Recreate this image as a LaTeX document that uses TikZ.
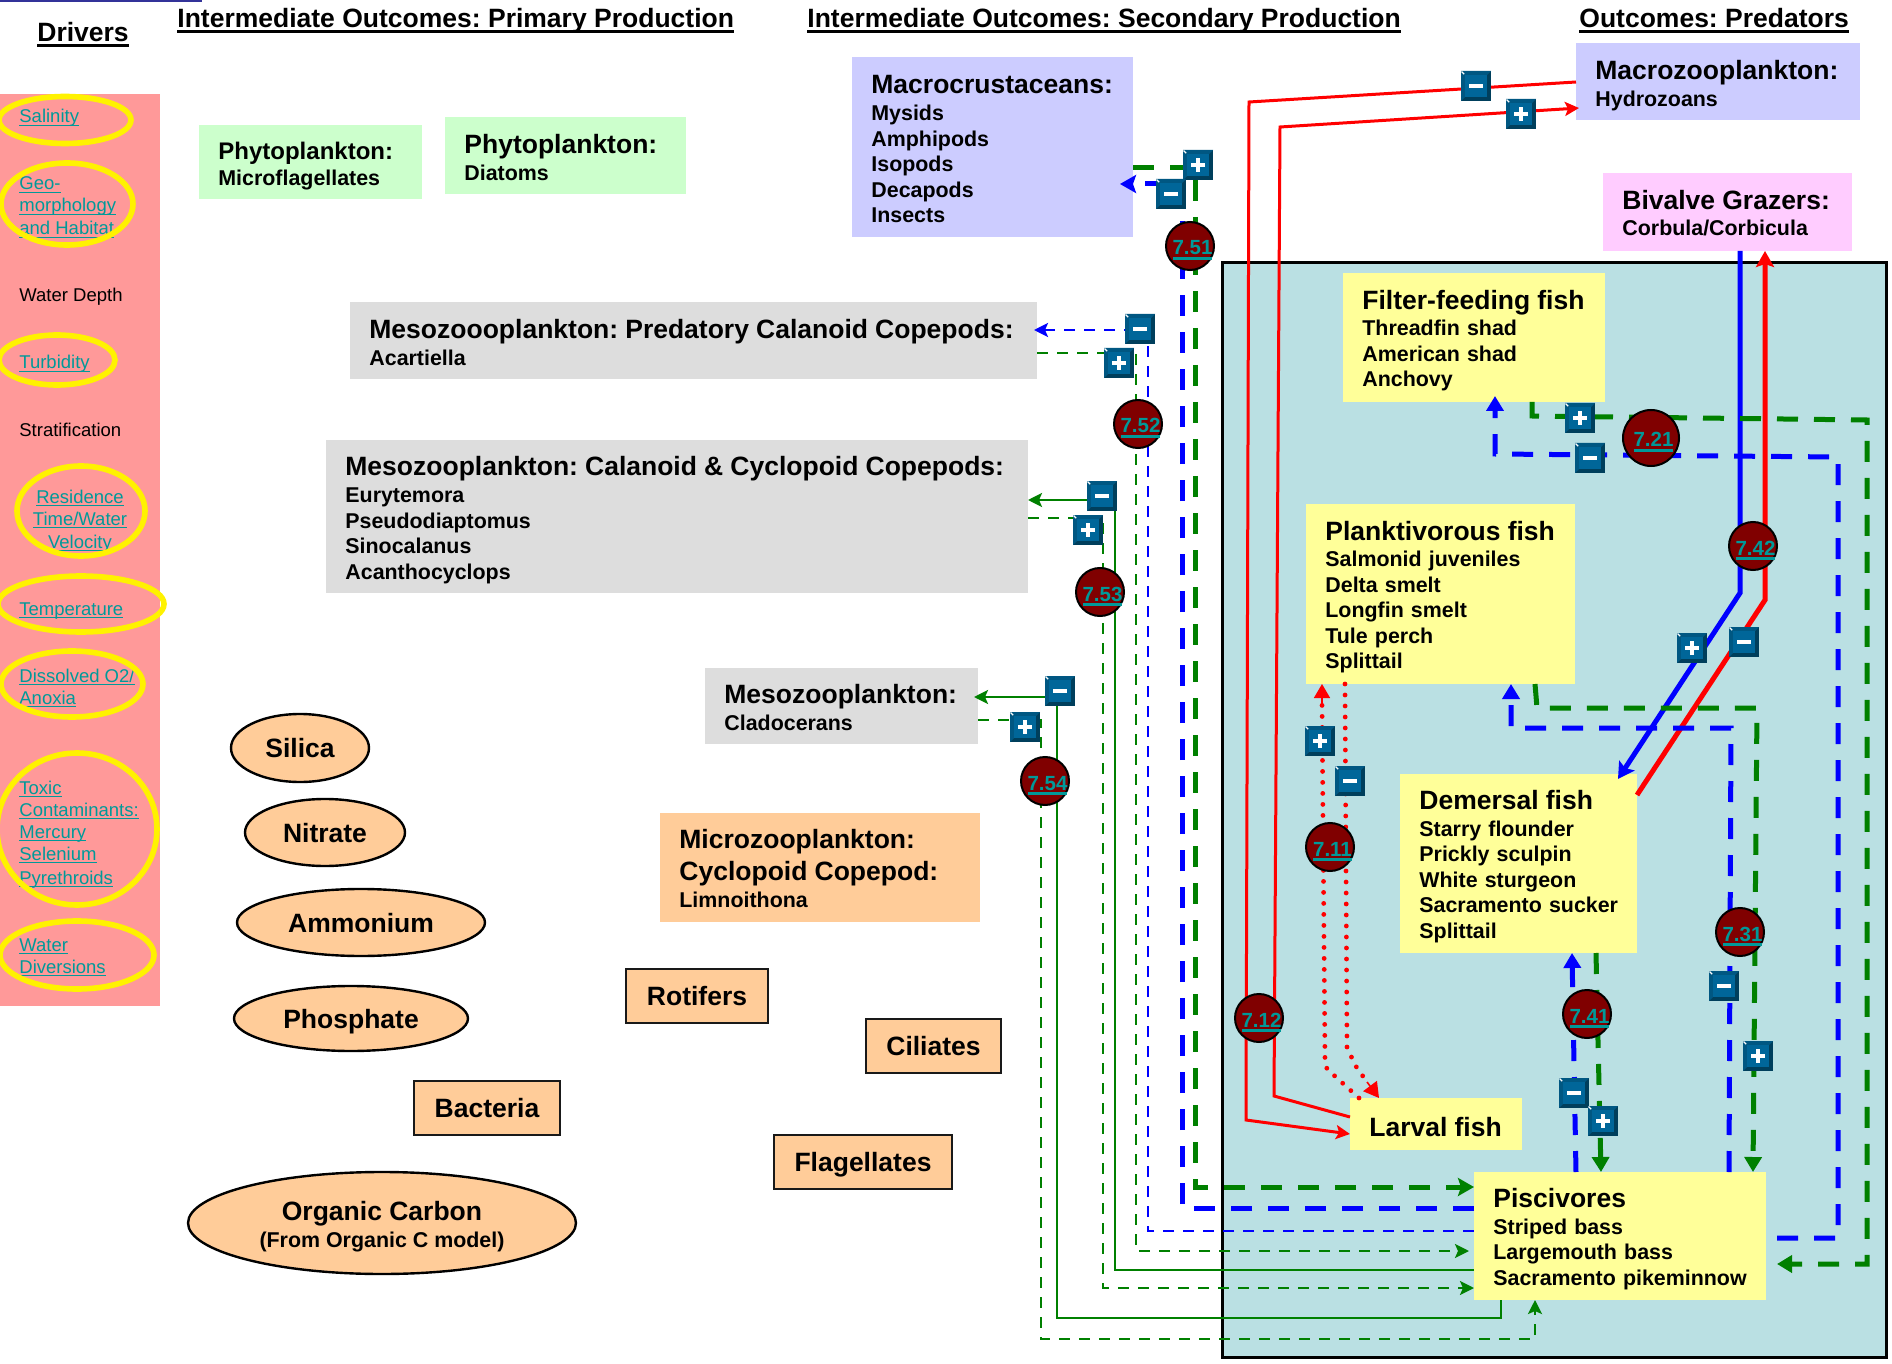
\documentclass[tikz,border=0pt]{standalone}
\usepackage{fontspec}
\setmainfont{Liberation Sans}
\usetikzlibrary{arrows.meta,shapes.geometric}
\definecolor{pinkp}{HTML}{FF9999}
\definecolor{mintb}{HTML}{CCFFCC}
\definecolor{lavb}{HTML}{CCCCFF}
\definecolor{greyb}{HTML}{DDDDDD}
\definecolor{peach}{HTML}{FFCC99}
\definecolor{yelb}{HTML}{FFFF99}
\definecolor{tealp}{HTML}{BAE0E3}
\definecolor{magb}{HTML}{FFCCFF}
\definecolor{maroonc}{HTML}{800000}
\definecolor{linkc}{HTML}{009999}
\definecolor{grn}{HTML}{008000}
\definecolor{badgeo}{HTML}{003F5C}
\definecolor{badgei}{HTML}{006699}
\definecolor{topbar}{HTML}{333399}
\frenchspacing
\newcommand\hdf{\bfseries\fontsize{13.25}{16}\selectfont\frenchspacing}
\newcommand\subf{\bfseries\fontsize{10.7}{12.75}\selectfont\frenchspacing}
\newcommand\drvf{\fontsize{9.25}{11}\selectfont}
\newcommand\undl[1]{\leavevmode\setbox0\hbox{#1}\rlap{\rule[-0.18em]{\wd0}{0.09em}}\box0 }
\newcommand\undc[1]{\makebox[0pt]{\hspace{2.5pt}\setbox0\hbox{#1}\rlap{\rule[-0.26em]{\wd0}{0.14em}}\box0 }}
\newcommand\tp{12.8pt}
% text box from corners: style, name, x0,y0,x1,y1, text
\newcommand\txb[7]{\node[txbox,#1,minimum width={(#5-#3)*0.5pt},minimum height={(#6-#4)*0.5pt},text width={(#5-#3)*0.5pt}] (#2) at ({(#3+#5)/2},{(#4+#6)/2}) {\leftskip=9.7pt\relax\rule{0pt}{\tp}#7\par};}
% outlined box
\newcommand\obx[6]{\node[orbox,minimum width={(#4-#2)*0.5pt},minimum height={(#5-#3)*0.5pt}] (#1) at ({(#2+#4)/2},{(#3+#5)/2}) {#6};}
% nutrient ellipse
\newcommand\nutel[7][]{\node[nutr,#1,minimum width={(#5-#3)*0.5pt},minimum height={(#6-#4)*0.5pt}] (#2) at ({(#3+#5)/2},{(#4+#6)/2}) {#7};}
% yellow ellipse: name, cx, cy, rx, ry
\newcommand\yel[5]{\node[yring,minimum width={#4*1pt},minimum height={#5*1pt}] (#1) at (#2,#3) {};}
\tikzset{
  txbox/.style={inner xsep=0pt,inner ysep=0pt,outer sep=0pt,align=left,font=\subf},
  orbox/.style={draw=black!90,line width=1.4pt,fill=peach,inner sep=0pt,outer sep=0pt,font=\hdf,text height=9.5pt,text depth=0pt},
  nutr/.style={ellipse,draw=black,line width=1.2pt,fill=peach,inner sep=0pt,outer sep=0pt,font=\hdf,align=center},
  one/.style={text height=9.5pt,text depth=0pt},
  yring/.style={ellipse,draw=yellow,line width=2.8pt,inner sep=0pt,outer sep=0pt},
  drv/.style={anchor=base west,inner sep=0pt,font=\drvf,text=linkc},
  drvk/.style={anchor=base west,inner sep=0pt,font=\drvf,text=black},
  hdr/.style={anchor=base west,inner sep=0pt,font=\hdf},
  modc/.style={circle,draw=black,line width=1pt,fill=maroonc,minimum size=24pt,inner sep=0pt,font=\bfseries\fontsize{10.25}{12}\selectfont,text=linkc,text height=10pt,text depth=1pt},
  badge/.style={rectangle,minimum size=15pt,inner sep=0pt,outer sep=0pt,path picture={
     \fill[badgeo] (path picture bounding box.south west) rectangle (path picture bounding box.north east);
     \fill[badgei!85!black] (path picture bounding box.north west) -- (path picture bounding box.north east) -- ([xshift=-2pt,yshift=-2pt]path picture bounding box.north east) -- ([xshift=2pt,yshift=-2pt]path picture bounding box.north west) -- ([xshift=2pt,yshift=2pt]path picture bounding box.south west) -- (path picture bounding box.south west) -- cycle;
     \fill[badgei] ([xshift=2.2pt,yshift=2.2pt]path picture bounding box.south west) rectangle ([xshift=-2.2pt,yshift=-2.2pt]path picture bounding box.north east);
     \draw[white,line width=0.6pt] ([xshift=0.3pt,yshift=-0.3pt]path picture bounding box.north west) -- ([xshift=1.6pt,yshift=-1.6pt]path picture bounding box.north west);}},
  bplus/.style={badge,label={[inner sep=0pt]center:{\tikz{\fill[white] (-3.6pt,-1pt) rectangle (3.6pt,1pt);\fill[white] (-1pt,-3.6pt) rectangle (1pt,3.6pt);}}}},
  bminus/.style={badge,label={[inner sep=0pt]center:{\tikz{\fill[white] (-3.6pt,-0.9pt) rectangle (3.6pt,0.9pt);}}}},
  thk/.style={line width=2.5pt,dash pattern=on 10.5pt off 8pt},
  thn/.style={line width=1.25pt,dash pattern=on 5.5pt off 4.5pt},
  sol/.style={line width=1.25pt},
  sol2/.style={line width=2.5pt},
  solr/.style={line width=1.5pt,draw=red},
  dots/.style={line width=2.4pt,dash pattern=on 0pt off 5.5pt,line cap=round,draw=red},
  tipB/.style={-{Stealth[length=8pt,width=9pt,inset=1.5pt]}},
  tipT/.style={-{Stealth[length=7.5pt,width=8.5pt,inset=0pt]}},
  tipS/.style={-{Stealth[length=7pt,width=7pt,inset=1.5pt]}},
}
\begin{document}
\begin{tikzpicture}[x=0.5pt,y=-0.5pt]
\useasboundingbox (0,0) rectangle (1892,1364);
\fill[topbar] (0,0) rectangle (202,2);
\fill[pinkp] (0,94) rectangle (160,1006);
\fill[tealp] (1222,263) rectangle (1886,1357);
\draw[black,line width=1.5pt] (1222,263) rectangle (1886,1357);

% headers
\node[hdr] (hDrv) at (37,42) {\undl{Drivers}};
\node[hdr] (hPri) at (177,28) {\undl{Intermediate Outcomes: Primary Production}};
\node[hdr] (hSec) at (807,28) {\undl{Intermediate Outcomes: Secondary Production}};
\node[hdr] (hPre) at (1579,28) {\undl{Outcomes: Predators}};

% drivers
\node[drv] (d1) at (19,123) {\undl{Salinity}};
\node[drv] (d2a) at (19,190) {\undl{Geo-}};
\node[drv] (d2b) at (19,212) {\undl{morphology}};
\node[drv] (d2c) at (19,235) {\undl{and Habitat}};
\node[drvk] (d3) at (19,302) {Water Depth};
\node[drv] (d4) at (19,369) {\undl{Turbidity}};
\node[drvk] (d5) at (19,437) {Stratification};
\node[drv,anchor=base] (d6a) at (80,503) {\undl{Residence}};
\node[drv,anchor=base] (d6b) at (80,525) {\undl{Time/Water}};
\node[drv,anchor=base] (d6c) at (80,548) {\undl{Velocity}};
\node[drv] (d7) at (19,615) {\undl{Temperature}};
\node[drv] (d8a) at (19,682) {\undl{Dissolved O2/}};
\node[drv] (d8b) at (19,704) {\undl{Anoxia}};
\node[drv] (d9a) at (19,794) {\undl{Toxic}};
\node[drv] (d9b) at (19,816) {\undl{Contaminants:}};
\node[drv] (d9c) at (19,838) {\undl{Mercury}};
\node[drv] (d9d) at (19,860) {\undl{Selenium}};
\node[drv] (d9e) at (19,884) {\undl{Pyrethroids}};
\node[drv] (d10a) at (19,951) {\undl{Water}};
\node[drv] (d10b) at (19,973) {\undl{Diversions}};
\yel{y1}{65}{120}{66}{23.5}
\yel{y2}{67}{204}{66}{41}
\yel{y4}{57}{360}{58}{25}
\yel{y6}{81}{511}{64}{45}
\yel{y7}{81}{604}{83}{28}
\yel{y8}{72}{684}{71}{33}
\yel{y9}{77}{829}{80}{76}
\yel{y10}{77}{955}{77}{34}

% boxes
\txb{fill=mintb}{micf}{199}{125}{422}{199}{{\fontsize{12}{14}\selectfont Phytoplankton:}\\[0.6pt]Microflagellates}
\renewcommand\tp{11.6pt}
\txb{fill=mintb}{diat}{445}{117}{686}{194}{{\hdf Phytoplankton:}\\[1pt]Diatoms}
\txb{fill=greyb}{pred}{350}{302}{1037}{379}{{\hdf Mesozoooplankton: Predatory Calanoid Copepods:}\\[1pt]Acartiella}
\renewcommand\tp{11pt}
\txb{fill=lavb}{macr}{852}{57}{1133}{237}{{\hdf Macrocrustaceans:}\\[1pt]Mysids\\Amphipods\\Isopods\\Decapods\\Insects}
\txb{fill=greyb}{clad}{705}{668}{978}{744}{{\hdf Mesozooplankton:}\\[0.6pt]Cladocerans}
\txb{fill=peach}{mizo}{660}{813}{980}{922}{{\hdf Microzooplankton:}\\[3pt]{\hdf Cyclopoid Copepod:}\\[1pt]Limnoithona}
\renewcommand\tp{12.8pt}
\txb{fill=greyb}{cala}{326}{440}{1028}{593}{{\hdf Mesozooplankton: Calanoid \& Cyclopoid Copepods:}\\[1pt]Eurytemora\\Pseudodiaptomus\\Sinocalanus\\Acanthocyclops}
\renewcommand\tp{13.5pt}
\txb{fill=lavb}{mazo}{1576}{43}{1860}{120}{{\hdf Macrozooplankton:}\\[0.6pt]Hydrozoans}
\renewcommand\tp{10.8pt}
\txb{fill=magb}{biva}{1603}{173}{1852}{251}{{\hdf Bivalve Grazers:}\\[0.6pt]Corbula/Corbicula}
\renewcommand\tp{12.8pt}
\txb{fill=yelb}{filt}{1343}{273}{1605}{402}{{\hdf Filter-feeding fish}\\[0.6pt]Threadfin shad\\American shad\\Anchovy}
\txb{fill=yelb}{plan}{1306}{504}{1575}{684}{{\hdf Planktivorous fish}\\[0.6pt]Salmonid juveniles\\Delta smelt\\Longfin smelt\\Tule perch\\Splittail}
\txb{fill=yelb}{deme}{1400}{774}{1637}{953}{{\hdf Demersal fish}\\[0.6pt]Starry flounder\\Prickly sculpin\\White sturgeon\\Sacramento sucker\\Splittail}
\txb{fill=yelb}{larv}{1350}{1098}{1522}{1150}{{\hdf Larval fish}}
\txb{fill=yelb}{pisc}{1474}{1172}{1766}{1300}{{\hdf Piscivores}\\[0.6pt]Striped bass\\Largemouth bass\\Sacramento pikeminnow}
\obx{roti}{626}{969}{768}{1023}{Rotifers}
\obx{cili}{866}{1019}{1001}{1073}{Ciliates}
\obx{flag}{774}{1135}{952}{1189}{Flagellates}
\obx{bact}{414}{1081}{560}{1135}{Bacteria}
\nutel[one]{sili}{231}{714}{369}{782}{Silica}
\nutel[one]{nitr}{245}{799}{405}{866}{Nitrate}
\nutel[one]{ammo}{237}{889}{485}{956}{Ammonium}
\nutel[one]{phos}{234}{986}{468}{1051}{Phosphate}
\nutel{orgc}{188}{1172}{576}{1274}{\rule{0pt}{13.2pt}Organic Carbon\\[-2.5pt]{\subf (From Organic C model)}}

% Macrocrustaceans
\draw[blue,thk,tipB] (pisc.west |- 0,1208) -- (1182,1208) -- (1182,184) -- ([xshift=-6.5pt]macr.east |- 0,184);
\draw[grn,thk,tipB] (macr.east |- 0,168) -- (1195,168) -- (1195,1187) -- (pisc.west |- 0,1187);
% Predatory copepods
\draw[blue,thn,tipS] (pisc.west |- 0,1231) -- (1148,1231) -- (1148,330) -- ([xshift=-1.5pt]pred.east |- 0,330);
\draw[grn,thn,tipS] (pred.east |- 0,353) -- (1136,353) -- (1136,1251) -- ([xshift=-2.5pt]pisc.west |- 0,1251);
% Calanoid
\draw[grn,sol,tipS] (pisc.west |- 0,1270) -- (1115,1270) -- (1115,500) -- (cala.east |- 0,500);
\draw[grn,thn,tipS] (cala.east |- 0,518) -- (1103,518) -- (1103,1288) -- (pisc.west |- 0,1288);
% Cladocerans
\draw[grn,sol,tipS] (pisc.south -| 1501,0) -- (1501,1318) -- (1057,1318) -- (1057,697) -- ([xshift=-2pt]clad.east |- 0,697);
\draw[grn,thn,tipS] (clad.east |- 0,720) -- (1041,720) -- (1041,1339) -- (1535,1339) -- (pisc.south -| 1535,0);
% Larval - Macrozooplankton
\draw[solr,tipS] (mazo.west |- 0,82) -- (1249,102) -- (1246,1120) -- (larv.west |- 0,1134);
\draw[solr,tipS] (larv.west |- 0,1117) -- (1274,1096) -- (1280,127) -- ([xshift=1.5pt]mazo.west |- 0,108);
% Planktivorous - Larval
\draw[dots] (larv.north -| 1359,0) -- (1327,1069) -- (1325,1060) -- (1322,700);
\draw[red,-{Stealth[length=7pt,width=8pt,inset=0pt]},line width=0.8pt] (1322,704) -- (plan.south -| 1322,0);
\draw[dots] (plan.south -| 1345,0) -- (1347,1047) -- (1355,1065) -- (1367,1082);
\draw[red,-{Stealth[length=7.5pt,width=8.5pt,inset=0pt]},line width=0.8pt] (1367,1082) -- (larv.north -| 1379,0);
% Bivalves - Demersal
\draw[blue,sol2,tipB] (biva.south -| 1740,0) -- (1740,593) -- (1618,779);
\draw[red,sol2,tipB] (1637,795) -- (1765,600) -- (biva.south -| 1765,0);
% Filter-feeding
\draw[grn,thk,tipT] (filt.south -| 1532,0) -- (1532,416) -- (1867,420) -- (1867,1264) -- ([xshift=5.5pt]pisc.east |- 0,1264);
\draw[blue,thk,tipT] ([xshift=5.5pt]pisc.east |- 0,1238) -- (1838,1238) -- (1838,457) -- (1495,454) -- ([yshift=3pt]filt.south -| 1495,0);
% Planktivorous
\draw[grn,thk,tipT] (plan.south -| 1535,0) -- (1537,708) -- (1757,708) -- (pisc.north -| 1753,0);
\draw[blue,thk,tipT] (pisc.north -| 1729,0) -- (1731,728) -- (1511,728) -- (plan.south -| 1511,0);
% Demersal
\draw[grn,thk,tipT] (deme.south -| 1596,0) -- (pisc.north -| 1601,0);
\draw[blue,thk,tipT] (pisc.north -| 1576,0) -- (deme.south -| 1572,0);

% models
\node[modc] (m751) at (1190,246) {\undc{7.51}};
\node[modc] (m752) at (1138,424) {\undc{7.52}};
\node[modc] (m753) at (1100,592) {\undc{7.53}};
\node[modc] (m754) at (1045,781) {\undc{7.54}};
\node[modc,minimum size=28pt] (m721) at (1651,438) {\undc{7.21}};
\node[modc] (m742) at (1753,546) {\undc{7.42}};
\node[modc] (m711) at (1330,847) {\undc{7.11}};
\node[modc] (m712) at (1259,1018) {\undc{7.12}};
\node[modc] (m741) at (1587,1014) {\undc{7.41}};
\node[modc] (m731) at (1740,932) {\undc{7.31}};

% badges
\node[bplus] (p1) at (1198,165) {};
\node[bminus] (n1) at (1171,194) {};
\node[bminus] (n2) at (1140,329) {};
\node[bplus] (p2) at (1119,363) {};
\node[bminus] (n3) at (1102,496) {};
\node[bplus] (p3) at (1088,530) {};
\node[bminus] (n4) at (1060,691) {};
\node[bplus] (p4) at (1025,727) {};
\node[bminus] (n5) at (1476,86) {};
\node[bplus] (p5) at (1521,114) {};
\node[bplus] (p6) at (1580,418) {};
\node[bminus] (n6) at (1590,458) {};
\node[bplus] (p7) at (1692,648) {};
\node[bminus] (n7) at (1744,642) {};
\node[bplus] (p8) at (1320,741) {};
\node[bminus] (n8) at (1350,781) {};
\node[bminus] (n9) at (1574,1093) {};
\node[bplus] (p9) at (1603,1121) {};
\node[bminus] (n10) at (1724,986) {};
\node[bplus] (p10) at (1758,1056) {};
\end{tikzpicture}
\end{document}
